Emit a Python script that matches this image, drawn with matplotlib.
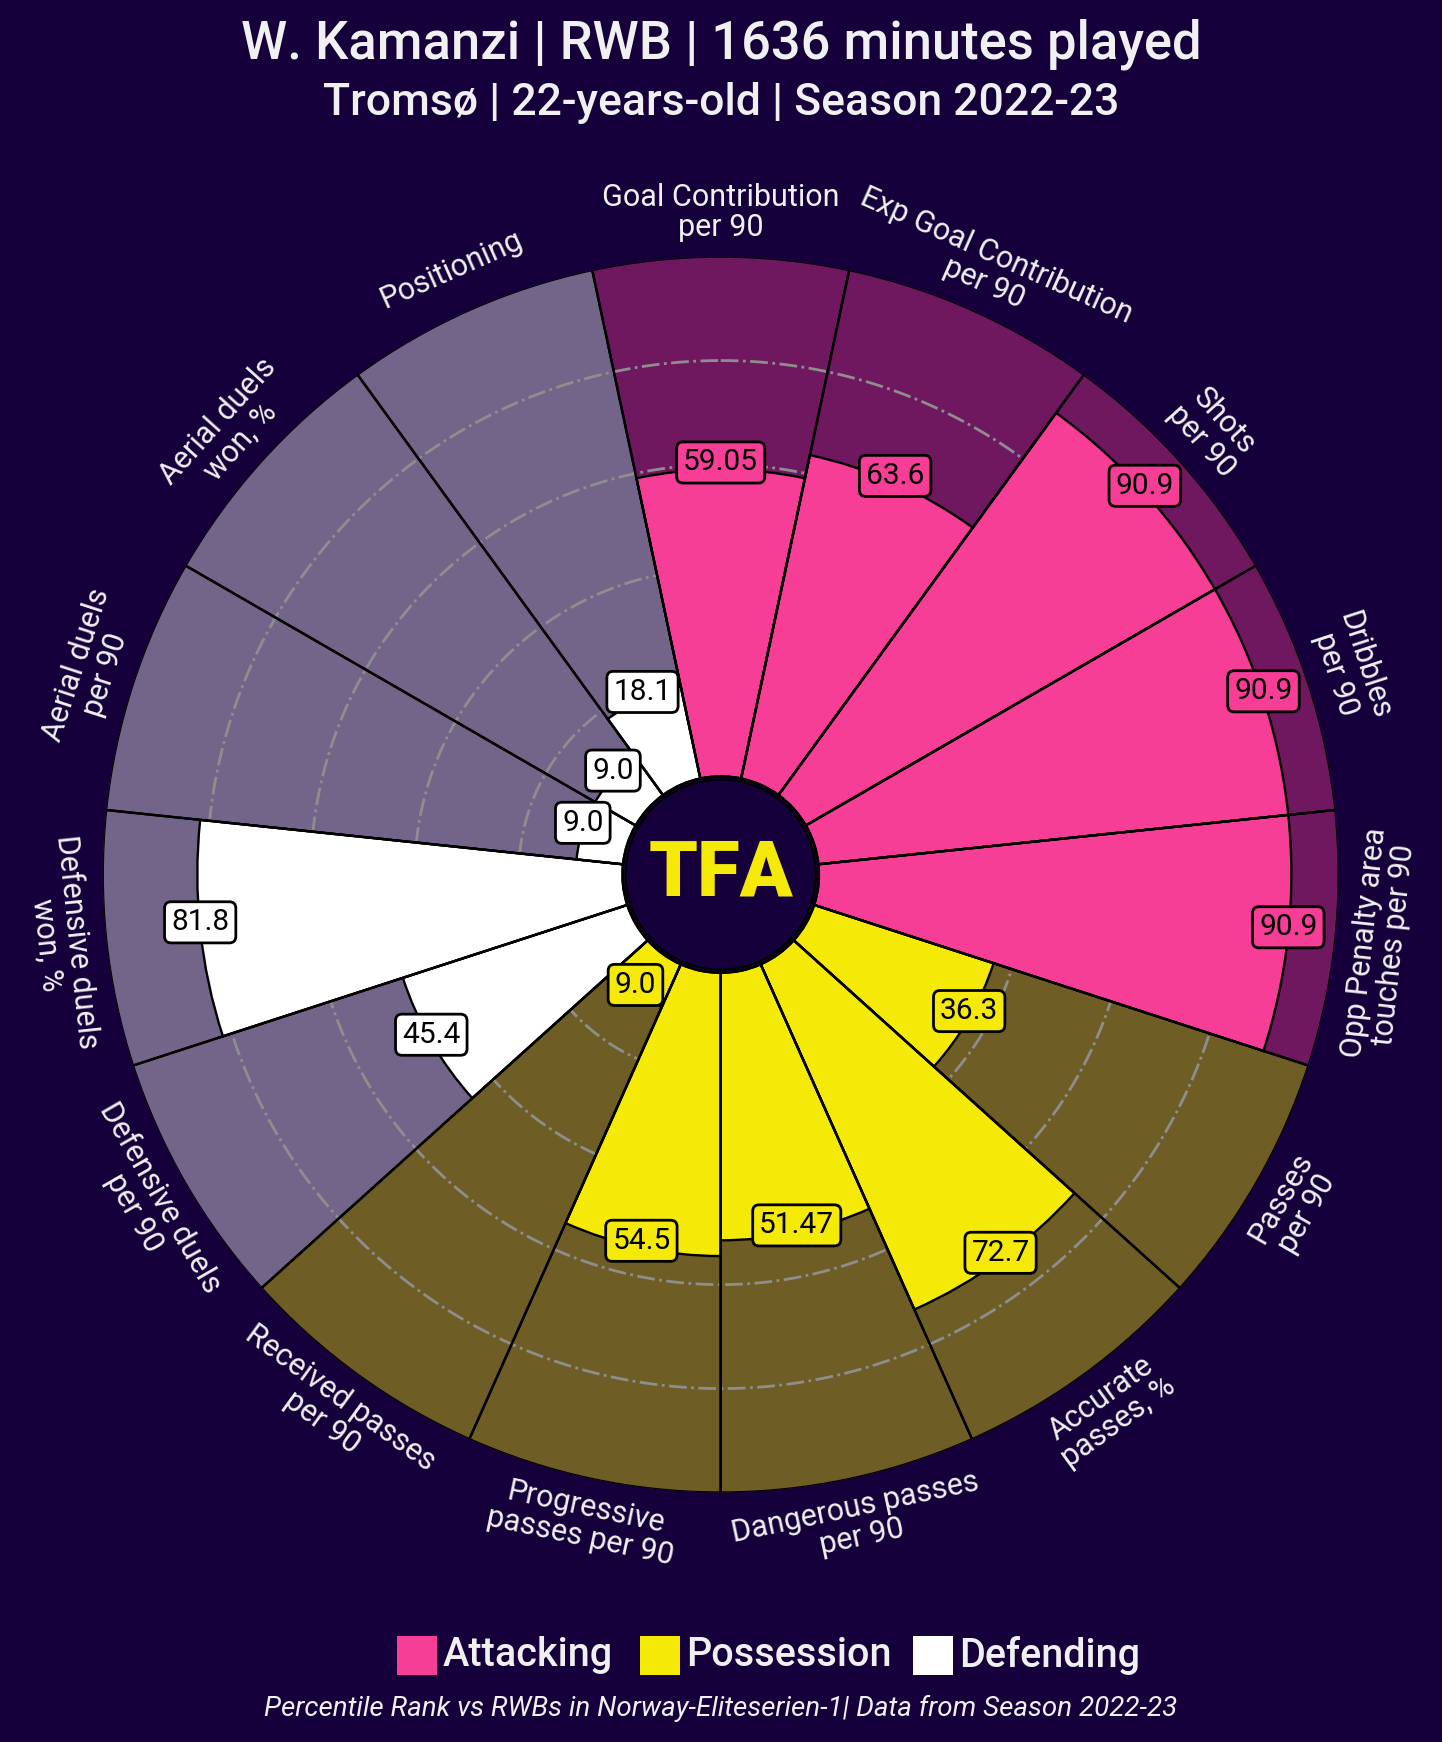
import numpy as np
import matplotlib
matplotlib.use("Agg")
import matplotlib.pyplot as plt
from matplotlib.patches import Circle, Rectangle
from matplotlib.transforms import offset_copy

# colours
BG = "#16003c"
TXT = "#f0f0f0"
ATT = "#f73e96"
POS = "#f5e907"
DEF = "#ffffff"

# data (clockwise from the top)
params = ["Goal Contribution\nper 90", "Exp Goal Contribution\nper 90", "Shots\nper 90",
          "Dribbles\nper 90", "Opp Penalty area\ntouches per 90", "Passes\nper 90",
          "Accurate\npasses, %", "Dangerous passes\nper 90", "Progressive\npasses per 90",
          "Received passes\nper 90", "Defensive duels\nper 90", "Defensive duels\nwon, %",
          "Aerial duels\nper 90", "Aerial duels\nwon, %", "Positioning"]
values = [59.05, 63.6, 90.9, 90.9, 90.9,
          36.3, 72.7, 51.47, 54.5, 9.0,
          45.4, 81.8, 9.0, 9.0, 18.1]
groups = ["Attacking"] * 5 + ["Possession"] * 5 + ["Defending"] * 5
group_colors = {"Attacking": ATT, "Possession": POS, "Defending": DEF}
grid_levels = [20, 40, 60, 80]

title = "W. Kamanzi | RWB | 1636 minutes played"
subtitle = "Tromsø | 22-years-old | Season 2022-23"
footnote = "Percentile Rank vs RWBs in Norway-Eliteserien-1| Data from Season 2022-23"

plt.rcParams['font.family'] = ['Roboto', 'DejaVu Sans']

fig = plt.figure(figsize=(14.42, 17.42), dpi=100, facecolor=BG)
ax = fig.add_axes([0.0712, 0.1432, 0.8572, 0.7095], projection="polar")
ax.set_facecolor(BG)
ax.patch.set_alpha(0)
ax.set_theta_zero_location("N")
ax.set_theta_direction(-1)
inner = 18.9
ax.set_ylim(-inner, 100)

n = len(params)
width = 2 * np.pi / n
theta = np.arange(n) * width
cols = [group_colors[g] for g in groups]

# background slices
ax.bar(theta, [100] * n, width=width, bottom=0, color=cols, alpha=0.4,
       edgecolor="none", zorder=1)
ax.bar(theta, [100] * n, width=width, bottom=0, color="none",
       edgecolor="black", lw=1.7, zorder=4)

# grid circles
tt = np.linspace(0, 2 * np.pi, 400)
for lvl in grid_levels:
    ax.plot(tt, [lvl] * len(tt), color="#8e8e8e", lw=2, ls="-.", zorder=2)

# value slices
ax.bar(theta, values, width=width, bottom=0, color=cols,
       edgecolor="black", lw=1.7, zorder=3)

# value boxes
val_tr = offset_copy(ax.transData, fig=fig, x=0, y=5, units="points")
for t, v, c in zip(theta, values, cols):
    ax.text(t, v, f"{v}", ha="center", va="center", fontsize=21.5, color="black",
            zorder=6, transform=val_tr,
            bbox=dict(boxstyle="round,pad=0.22", fc=c, ec="black", lw=2))

# parameter labels
for t, p in zip(theta, params):
    a = np.rad2deg(t)
    if 90 < a < 270:
        rot = 180 - a
    else:
        rot = -a
    ax.text(t, 108.5, p, ha="center", va="center", rotation=rot,
            rotation_mode="anchor", fontsize=22, color=TXT, linespacing=1.05)

ax.set_xticks([])
ax.set_yticks([])
ax.grid(False)
ax.spines["polar"].set_visible(False)

# centre logo
ax.add_patch(Circle((0.5, 0.5), 0.5 * 95 / 618, transform=ax.transAxes,
                    fc=BG, ec="black", lw=1.5, zorder=7))
ax.text(0.5, 0.5, "TFA", transform=ax.transAxes, ha="center", va="center",
        fontsize=56, fontweight="heavy", color=POS, zorder=8)

# titles
fig.text(0.5, 0.9747, title, ha="center", va="center", fontsize=37.8,
         fontweight=500, color=TXT)
fig.text(0.5, 0.9409, subtitle, ha="center", va="center", fontsize=32,
         fontweight=500, color=TXT)

# legend
leg_y = 0.0499
items = [("Attacking", ATT, 397), ("Possession", POS, 640), ("Defending", DEF, 913)]
for name, c, x in items:
    fig.patches.append(Rectangle((x / 1442, leg_y - 0.0112), 40 / 1442, 0.0224,
                                 transform=fig.transFigure, fc=c, ec="none"))
    fig.text((x + 46) / 1442, leg_y, name, ha="left", va="center", fontsize=28.5,
             fontweight=500, color=TXT)

fig.text(0.5, 0.0195, footnote, ha="center", va="center", fontsize=20,
         style="italic", color=TXT)

fig.savefig("out.png", dpi=100, facecolor=BG)
